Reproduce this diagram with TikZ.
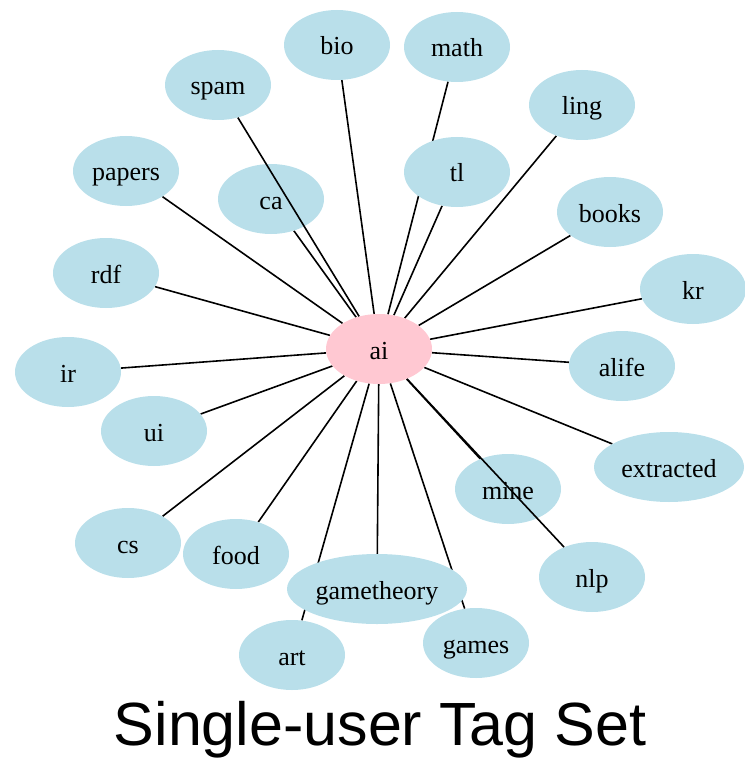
\documentclass[tikz,border=0pt]{standalone}
\usepackage{fontspec}
\setmainfont{Liberation Serif}
\newfontfamily\titlefont{Liberation Sans}
\usetikzlibrary{shapes.geometric}
\pgfdeclarelayer{background}
\pgfsetlayers{background,main}
\definecolor{tagblue}{HTML}{B9DFEA}
\definecolor{tagpink}{HTML}{FFC8D2}

\begin{document}
\begin{tikzpicture}[x=1pt,y=-1pt,
    tag/.style={ellipse, fill=tagblue, minimum width=106pt, minimum height=70pt,
      inner sep=0pt, text height=20pt, text depth=0pt,
      font=\fontsize{26}{28}\selectfont},
    hub/.style={tag, fill=tagpink},
    link/.style={line width=1.6pt}]
    \useasboundingbox (0,0) rectangle (744,762);
    % Centre tag
    \node[hub] (ai) at (379,349) {ai};
    % Tags around it
    \node[tag] (bio) at (337,45) {bio};
    \node[tag] (math) at (457,47) {math};
    \node[tag] (spam) at (218,85) {spam};
    \node[tag] (ling) at (582,105) {ling};
    \node[tag] (papers) at (126,171) {papers};
    \node[tag] (ca) at (271,199) {ca};
    \node[tag] (tl) at (457,172) {tl};
    \node[tag] (books) at (610,212) {books};
    \node[tag] (rdf) at (106,273) {rdf};
    \node[tag] (kr) at (693,289) {kr};
    \node[tag] (ir) at (68,372) {ir};
    \node[tag] (alife) at (622,366) {alife};
    \node[tag] (ui) at (154,431) {ui};
    \node[tag, minimum width=150pt] (extracted) at (669,467) {extracted};
    \node[tag] (mine) at (508,489) {mine};
    \node[tag] (cs) at (128,543) {cs};
    \node[tag] (food) at (236,554) {food};
    \node[tag] (nlp) at (592,577) {nlp};
    \node[tag, minimum width=180pt] (gametheory) at (377,589) {gametheory};
    \node[tag] (art) at (292,655) {art};
    \node[tag] (games) at (476,643) {games};
    % Edges, most of them behind the tags
    \begin{pgfonlayer}{background}
      \foreach \t in {bio,math,ling,papers,ca,tl,books,rdf,kr,ir,alife,ui,
          extracted,mine,cs,food,gametheory,art,games}
        \draw[link] (ai) -- (\t);
    \end{pgfonlayer}
    % These two cross over other tags
    \draw[link] (ai) -- (spam);
    \draw[link] (ai) -- (nlp);
    % Title
    \node[anchor=base, font=\titlefont\fontsize{61}{64}\selectfont] (title)
      at (380,745) {Single-user Tag Set};
\end{tikzpicture}
\end{document}
